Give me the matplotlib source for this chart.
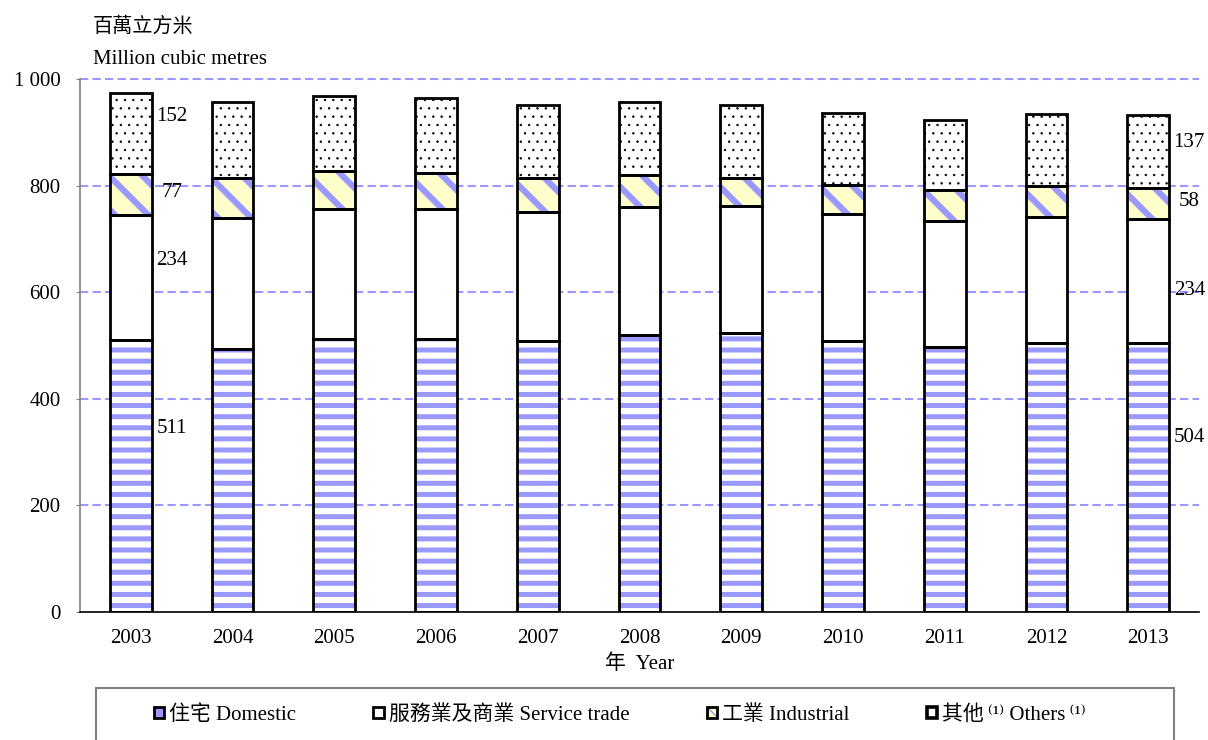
import numpy as np
import matplotlib
matplotlib.use("Agg")
import matplotlib.pyplot as plt
import matplotlib.hatch as mhatch
from matplotlib.patches import Patch, Rectangle

# water consumption by sector, million cubic metres
years = ["2003", "2004", "2005", "2006", "2007", "2008", "2009", "2010", "2011", "2012", "2013"]
domestic = [511, 493, 512, 513, 509, 519, 524, 509, 498, 504, 504]
service = [234, 246, 244, 243, 242, 240, 238, 237, 236, 237, 234]
industrial = [77, 75, 72, 68, 64, 60, 53, 55, 57, 59, 58]
others = [152, 142, 140, 140, 136, 137, 136, 135, 133, 135, 137]

labels = ["住宅 Domestic", "服務業及商業 Service trade", "工業 Industrial",
          "其他\u2009⁽¹⁾ Others\u2009⁽¹⁾"]

BLUE = "#9999FF"
YELLOW = "#FFFFCC"

plt.rcParams['font.family'] = ['Liberation Serif', 'Noto Sans CJK TC', 'DejaVu Serif']
plt.rcParams['font.size'] = 15


# horizontal stripes a bit wider apart than the stock '-' hatch allows
class WideStripes(mhatch.HorizontalHatch):
    def __init__(self, hatch, density):
        super().__init__(hatch, density)
        self.num_lines = int((hatch.count('-') + hatch.count('+')) * 9)
        self.num_vertices = self.num_lines * 2


mhatch._hatch_types[mhatch._hatch_types.index(mhatch.HorizontalHatch)] = WideStripes


def hatched_bar(ax, x, h, bottom, face, hcolor, hatch, hlw):
    with plt.rc_context({'hatch.linewidth': hlw}):
        bars = ax.bar(x, h, 0.41, bottom=bottom, color=face, edgecolor=hcolor,
                      hatch=hatch, linewidth=0, zorder=2)
    for b in bars:
        if hasattr(b, "set_hatch_linewidth"):
            b.set_hatch_linewidth(hlw)
    ax.bar(x, h, 0.41, bottom=bottom, fill=False, edgecolor="black",
           linewidth=2.0, zorder=3)


W, H = 1208, 740
fig = plt.figure(figsize=(W / 100, H / 100), dpi=100)
ax = fig.add_axes([80 / W, 1 - 612 / H, (1199 - 80) / W, (612 - 79) / H])

x = np.arange(len(years))
dom = np.array(domestic)
srv = np.array(service)
ind = np.array(industrial)
oth = np.array(others)

hatched_bar(ax, x, dom, 0, "white", BLUE, "-", 3.6)
hatched_bar(ax, x, srv, dom, "white", "white", None, 0.1)
hatched_bar(ax, x, ind, dom + srv, YELLOW, BLUE, "\\", 4.5)
hatched_bar(ax, x, oth, dom + srv + ind, "white", "black", "..", 0.5)

# value labels for first and last year
shift = {0: [88, 31, 3, 32], len(years) - 1: [75, -18, 3, 16]}
for i, nudges in shift.items():
    base = 0
    for vals, nudge in zip([dom, srv, ind, oth], nudges):
        ax.text(x[i] + 0.405, base + vals[i] / 2 + nudge, str(vals[i]),
                ha="center", va="center", fontsize=15)
        base += vals[i]

ax.set_xlim(-0.5, len(years) - 0.5)
ax.set_ylim(0, 1000)
ax.set_yticks(np.arange(0, 1001, 200))
ax.set_yticklabels(["0", "200", "400", "600", "800", "1 000"])
ax.set_xticks(x)
ax.set_xticklabels(years)
ax.tick_params(axis="x", length=0, pad=12, labelsize=15)
ax.tick_params(axis="y", length=3, pad=11, color="#808080", labelsize=15)

for yv in np.arange(200, 1001, 200):
    ax.axhline(yv, color=BLUE, lw=1.5, ls=(0, (4, 2)), zorder=1, clip_on=False)

for s in ["top", "right"]:
    ax.spines[s].set_visible(False)
ax.spines["left"].set_color("#808080")
ax.spines["left"].set_linewidth(1.2)
ax.spines["bottom"].set_color("black")
ax.spines["bottom"].set_linewidth(1.2)

fig.text(93 / W, 1 - 27 / H, "百萬立方米", ha="left", va="center", fontsize=14.5)
fig.text(93 / W, 1 - 59 / H, "Million cubic metres", ha="left", va="center", fontsize=15)
fig.text(640 / W, 1 - 664 / H, "年  Year", ha="center", va="center", fontsize=15)

# legend box, cut by the lower edge of the picture
fig.patches.append(Rectangle((96 / W, -0.05), (1174 - 96) / W, 0.05 + 1 - 688 / H,
                             transform=fig.transFigure, fill=False,
                             edgecolor="#808080", linewidth=1.5))

with plt.rc_context({'hatch.linewidth': 3.0}):
    ind_face = Patch(facecolor=YELLOW, edgecolor=BLUE, hatch="\\", linewidth=0)
handles = [
    Patch(facecolor=BLUE, edgecolor="black", linewidth=2),
    Patch(facecolor="white", edgecolor="black", linewidth=2),
    (ind_face, Patch(fill=False, edgecolor="black", linewidth=2)),
    Patch(facecolor="white", edgecolor="black", linewidth=2.6),
]
fig.legend(handles, labels, ncol=4, loc="center", bbox_to_anchor=(620 / W, 1 - 715 / H),
           frameon=False, fontsize=15, handlelength=0.5, handleheight=0.5,
           handletextpad=0.25, columnspacing=3.7)

fig.savefig("out.png", dpi=100)
